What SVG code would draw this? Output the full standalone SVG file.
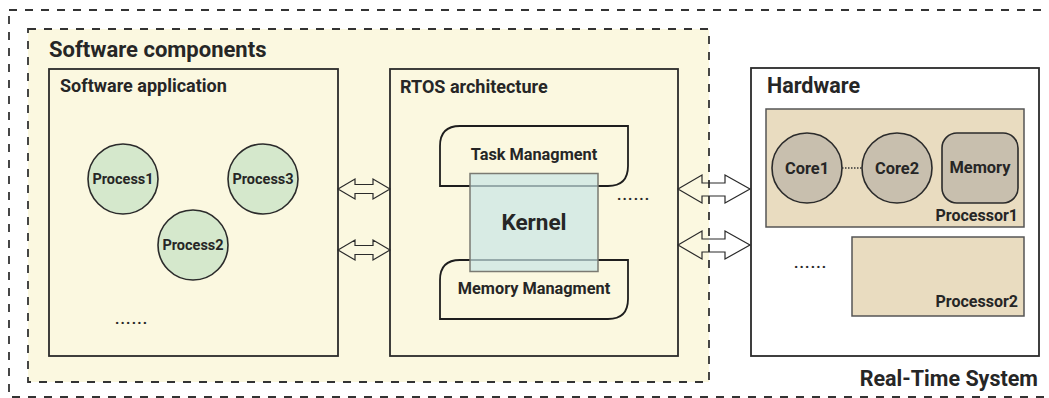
<svg xmlns="http://www.w3.org/2000/svg" width="1049" height="398" viewBox="0 0 1049 398">
<style>
text{font-family:Roboto,"Liberation Sans",sans-serif;font-weight:bold;fill:#262626}
.box{fill:none;stroke:#2b2b2b;stroke-width:1.8}
.dash{fill:none;stroke:#333;stroke-width:1.8;stroke-dasharray:8 8}
.proc{fill:#d5e8cc;stroke:#2b2b2b;stroke-width:1.6}
.core{fill:#c8bfae;stroke:#2b2b2b;stroke-width:1.6}
.cpu{fill:#e9dcc0;stroke:#555;stroke-width:1.5}
.mgmt{fill:none;stroke:#1e1e1e;stroke-width:1.8}
.arr{fill:none;stroke:#2b2b2b;stroke-width:1.2;stroke-linejoin:miter}
.dots{font-size:15px;letter-spacing:1.2px}
</style>
<rect x="0" y="0" width="1049" height="398" fill="#ffffff"/>
<g id="real-time-system">
<rect x="9" y="10" width="1060" height="387" class="dash"/>
<text x="1038" y="386" font-size="21.5" text-anchor="end">Real-Time System</text>
</g>
<g id="software-components">
<rect x="28" y="29" width="681" height="353" fill="#fbf8e0"/>
<rect x="28" y="29" width="681" height="353" class="dash"/>
<text x="49" y="57" font-size="22">Software components</text>
</g>
<g id="software-application">
<rect x="49" y="69" width="289" height="287" class="box"/>
<text x="60" y="92" font-size="18">Software application</text>
<text x="115" y="324" class="dots">......</text>
</g>
<g id="process1">
<circle cx="123" cy="179" r="35" class="proc"/>
<text x="123" y="184" font-size="14.5" text-anchor="middle">Process1</text>
</g>
<g id="process3">
<circle cx="263" cy="179" r="35" class="proc"/>
<text x="263" y="184" font-size="14.5" text-anchor="middle">Process3</text>
</g>
<g id="process2">
<circle cx="193" cy="245" r="35" class="proc"/>
<text x="193" y="250" font-size="14.5" text-anchor="middle">Process2</text>
</g>
<g id="rtos-architecture">
<rect x="390" y="69" width="288" height="287" class="box"/>
<text x="400" y="93" font-size="18">RTOS architecture</text>
<text x="617" y="200" class="dots">......</text>
</g>
<g id="task-managment">
<path d="M440 186 V146 Q440 126 460 126 H628 V166 Q628 186 608 186 Z" class="mgmt"/>
<text x="534" y="160" font-size="16.3" text-anchor="middle">Task Managment</text>
</g>
<g id="memory-managment">
<path d="M440 319 V280 Q440 260 460 260 H628 V299 Q628 319 608 319 Z" class="mgmt"/>
<text x="534" y="294" font-size="16.3" text-anchor="middle">Memory Managment</text>
</g>
<g id="kernel">
<rect x="470" y="173.5" width="128" height="98" fill="#c9e6e6" fill-opacity="0.7" stroke="#7a7a72" stroke-width="1.5"/>
<text x="534" y="230" font-size="22.5" text-anchor="middle">Kernel</text>
</g>
<g id="hardware">
<rect x="751" y="68" width="288" height="288" fill="#ffffff" class="box"/>
<text x="767" y="93" font-size="21.5">Hardware</text>
<text x="794" y="268" class="dots">......</text>
</g>
<g id="processor1">
<rect x="766" y="109" width="258" height="118" class="cpu"/>
<text x="1018" y="221" font-size="16" text-anchor="end">Processor1</text>
</g>
<g id="core1">
<circle cx="807" cy="168" r="35" class="core"/>
<text x="807" y="174" font-size="16.4" text-anchor="middle">Core1</text>
</g>
<g id="core2">
<circle cx="897" cy="168" r="35" class="core"/>
<text x="897" y="174" font-size="16.4" text-anchor="middle">Core2</text>
</g>
<g id="memory">
<rect x="942" y="133" width="76" height="70" rx="15" class="core"/>
<text x="980" y="173" font-size="16.4" text-anchor="middle">Memory</text>
</g>
<g id="processor2">
<rect x="852" y="237" width="172" height="79" class="cpu"/>
<text x="1018" y="307" font-size="16" text-anchor="end">Processor2</text>
</g>
<g id="connectors">
<line x1="842" y1="168" x2="862" y2="168" stroke="#333" stroke-width="1.5" stroke-dasharray="1.5 1.5"/>
<path d="M338 189 L355 179 V184.5 H373 V179 L390 189 L373 199 V193.5 H355 V199 Z" class="arr"/>
<path d="M338 250 L355 240 V245.5 H373 V240 L390 250 L373 260 V254.5 H355 V260 Z" class="arr"/>
<path d="M678 189 L702 175 V183 H725 V175 L750 189 L725 203 V196 H702 V203 Z" class="arr"/>
<path d="M678 245 L702 231 V239 H725 V231 L750 245 L725 259 V252 H702 V259 Z" class="arr"/>
</g>
</svg>
